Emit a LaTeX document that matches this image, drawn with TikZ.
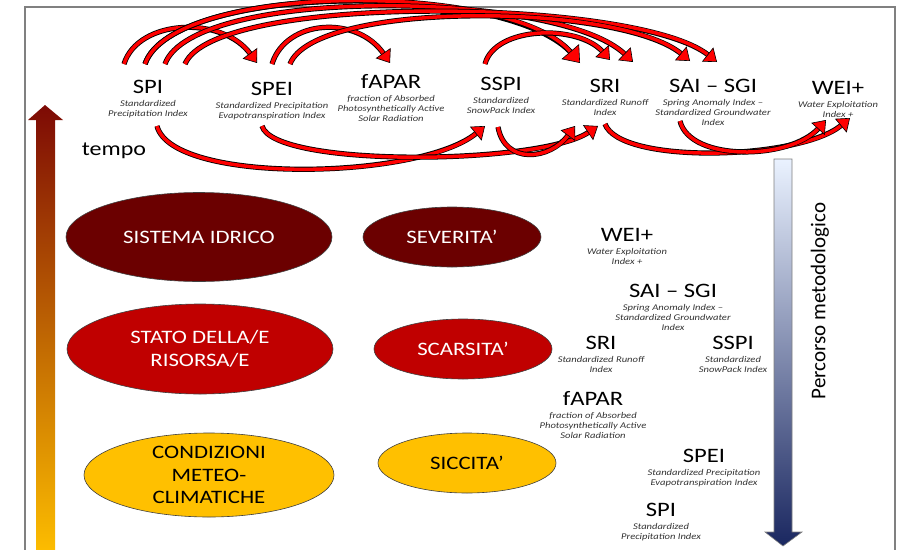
\documentclass[tikz,border=0pt]{standalone}
\usepackage{fontspec}
\setmainfont{Carlito}[FakeStretch=1.2]
\newfontfamily\dritto{Carlito}
\usetikzlibrary{positioning,calc,arrows.meta,shapes.geometric}
\tikzset{>=stealth}

\definecolor{rossoscuro}{RGB}{107,0,0}
\definecolor{rosso}{RGB}{192,0,0}
\definecolor{giallo}{RGB}{255,192,0}
\definecolor{grigiotesto}{RGB}{50,50,50}
\definecolor{cornice}{RGB}{128,128,128}
\definecolor{tempoalto}{RGB}{125,10,5}
\definecolor{tempomezzo}{RGB}{170,85,0}
\definecolor{blualto}{RGB}{234,242,255}
\definecolor{blubasso}{RGB}{26,39,96}

\tikzset{
  titolo/.style={inner sep=0pt, font=\fontsize{20.5}{22}\selectfont},
  sotto/.style={inner sep=0pt, align=center, text=grigiotesto,
    font=\fontsize{8.8}{10}\selectfont\itshape},
  bolla/.style={ellipse, draw=black!75, line width=0.6pt, align=center,
    inner sep=0pt, font=\fontsize{19}{22.5}\selectfont},
  freccia/.style={draw=red, line width=3.5pt,
    -{Triangle[width=18pt,length=12pt,line width=0.6pt,color=black,fill=red]},
    preaction={draw=black, line width=5.2pt, -, shorten >=11pt}},
  frecciona/.style={freccia,
    -{Triangle[width=23pt,length=15pt,line width=0.6pt,color=black,fill=red]},
    preaction={draw=black, line width=5.2pt, -, shorten >=14pt}},
}

\begin{document}
\begin{tikzpicture}[x=1pt,y=-1pt]
\useasboundingbox (0,0) rectangle (902,549);
\clip (0,0) rectangle (902,549);
% cornice
\draw[cornice, line width=1.5pt] (25,560) -- (25,7) -- (895,7) -- (895,560);

% frecce verticali
\shade[top color=tempoalto, middle color=tempomezzo, bottom color=giallo]
  (36,560) -- (36,120) -- (28,120) -- (45,105) -- (63,120) -- (55,120) -- (55,560) -- cycle;
\shadedraw[top color=blualto, bottom color=blubasso, draw=gray, line width=0.6pt]
  (774,159) -- (792,159) -- (792,532) -- (802,532) -- (783,546) -- (765,532) -- (774,532) -- cycle;
\node[font=\fontsize{20}{22}\selectfont, anchor=base, inner sep=0pt] (tempo) at (114,155) {tempo};
\node[font=\dritto\fontsize{21}{24}\selectfont, rotate=90, inner sep=0pt] (percorso) at (820,301) {Percorso metodologico};

% ellissi
\node[bolla, fill=rossoscuro, text=white, minimum width=266pt, minimum height=89pt] (sistema) at (199,237) {SISTEMA IDRICO};
\node[bolla, fill=rosso, text=white, minimum width=266pt, minimum height=90pt] (stato) at (200,349) {STATO DELLA/E\\RISORSA/E};
\node[bolla, fill=giallo, minimum width=250pt, minimum height=84pt] (condizioni) at (209,475) {CONDIZIONI\\METEO-\\CLIMATICHE};
\node[bolla, fill=rossoscuro, text=white, minimum width=178pt, minimum height=60pt] (severita) at (452,237) {SEVERITA’};
\node[bolla, fill=rosso, text=white, minimum width=178pt, minimum height=60pt] (scarsita) at (463,349) {SCARSITA’};
\node[bolla, fill=giallo, minimum width=178pt, minimum height=60pt] (siccita) at (467,463) {SICCITA’};

% indici in alto
\node[titolo, anchor=base] (spi) at (148,93) {SPI};
\node[sotto, below=7pt of spi] (spi-s) {Standardized\\Precipitation Index};
\node[titolo, anchor=base] (spei) at (272,95) {SPEI};
\node[sotto, below=7pt of spei] (spei-s) {Standardized Precipitation\\Evapotranspiration Index};
\node[titolo, anchor=base] (fapar) at (391,88) {fAPAR};
\node[sotto, below=7pt of fapar] (fapar-s) {fraction of Absorbed\\Photosynthetically Active\\Solar Radiation};
\node[titolo, anchor=base] (sspi) at (501,90) {SSPI};
\node[sotto, below=7pt of sspi] (sspi-s) {Standardized\\SnowPack Index};
\node[titolo, anchor=base] (sri) at (605,92) {SRI};
\node[sotto, below=7pt of sri] (sri-s) {Standardized Runoff\\Index};
\node[titolo, anchor=base] (sai) at (713,92) {SAI -- SGI};
\node[sotto, below=7pt of sai] (sai-s) {Spring Anomaly Index --\\Standardized Groundwater\\Index};
\node[titolo, anchor=base] (wei) at (838,94) {WEI+};
\node[sotto, below=7pt of wei] (wei-s) {Water Exploitation\\Index +};

% indici a destra
\node[titolo, anchor=base] (wei2) at (627,241) {WEI+};
\node[sotto, below=7pt of wei2] (wei2-s) {Water Exploitation\\Index +};
\node[titolo, anchor=base] (sai2) at (673,297) {SAI -- SGI};
\node[sotto, below=7pt of sai2] (sai2-s) {Spring Anomaly Index --\\Standardized Groundwater\\Index};
\node[titolo, anchor=base] (sri2) at (601,349) {SRI};
\node[sotto, below=7pt of sri2] (sri2-s) {Standardized Runoff\\Index};
\node[titolo, anchor=base] (sspi2) at (733,349) {SSPI};
\node[sotto, below=7pt of sspi2] (sspi2-s) {Standardized\\SnowPack Index};
\node[titolo, anchor=base] (fapar2) at (593,405) {fAPAR};
\node[sotto, below=7pt of fapar2] (fapar2-s) {fraction of Absorbed\\Photosynthetically Active\\Solar Radiation};
\node[titolo, anchor=base] (spei2) at (704,462) {SPEI};
\node[sotto, below=7pt of spei2] (spei2-s) {Standardized Precipitation\\Evapotranspiration Index};
\node[titolo, anchor=base] (spi2) at (661,516) {SPI};
\node[sotto, below=7pt of spi2] (spi2-s) {Standardized\\Precipitation Index};

% archi sopra
\draw[freccia] ([xshift=-24pt,yshift=29pt]spi.base) .. controls +(14,-45) and +(-35,-48) .. ([xshift=-15pt,yshift=32pt]spei.base);
\draw[frecciona] ([xshift=-3pt,yshift=29pt]spi.base) .. controls +(28,-82) and +(-70,-82) .. ([xshift=-25pt,yshift=29pt]sri.base);
\draw[freccia] ([xshift=17pt,yshift=29pt]spi.base) .. controls +(28,-78) and +(-75,-72) .. ([xshift=28pt,yshift=30pt]sri.base);
\draw[freccia] ([xshift=37pt,yshift=29pt]spi.base) .. controls +(30,-72) and +(-80,-64) .. ([xshift=4pt,yshift=30pt]sai.base);
\draw[freccia] ([yshift=31pt]spei.base) .. controls +(14,-45) and +(-33,-48) .. ([xshift=-1pt,yshift=25pt]fapar.base);
\draw[freccia] ([xshift=18pt,yshift=31pt]spei.base) .. controls +(25,-64) and +(-70,-58) .. ([xshift=-23pt,yshift=31pt]sai.base);
\draw[freccia] ([xshift=-16pt,yshift=26pt]sspi.base) .. controls +(10,-38) and +(-32,-36) .. ([xshift=5pt,yshift=32pt]sri.base);

% archi sotto
\draw[freccia] ([xshift=9pt,yshift=-33pt]spi.base) .. controls +(15,59) and +(-65,54) .. ([xshift=-16pt,yshift=-36pt]sspi.base);
\draw[freccia] ([xshift=-10pt,yshift=-31pt]spei.base) .. controls +(12,42) and +(-58,39) .. ([xshift=-7pt,yshift=-34pt]sri.base);
\draw[freccia] ([xshift=-3pt,yshift=-37pt]sspi.base) .. controls +(7,38) and +(-25,34) .. ([xshift=-30pt,yshift=-34pt]sri.base);
\draw[freccia] ([yshift=-32pt]sri.base) .. controls +(15,41) and +(-50,42) .. ([xshift=12pt,yshift=-24pt]wei.base);
\draw[freccia] ([xshift=-33pt,yshift=-29pt]sai.base) .. controls +(10,41) and +(-36,40) .. ([xshift=-12pt,yshift=-26pt]wei.base);
\end{tikzpicture}
\end{document}
